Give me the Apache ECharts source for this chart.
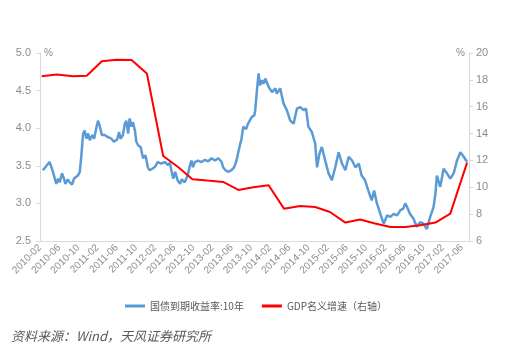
<!DOCTYPE html>
<html>
<head>
<meta charset="utf-8">
<script src="https://cdn.jsdelivr.net/npm/echarts@6/dist/echarts.min.js"></script>
<style>
  html, body { margin: 0; padding: 0; background: #fff; }
  #chart { width: 512px; height: 354px; }
</style>
</head>
<body>
<div id="chart"></div>
<script>
// x position = months since 2010-02
const yieldMonth = [
  0.6, 1.1, 1.5, 2.0, 2.4, 2.7, 3.4, 3.8, 4.1, 4.6,
  5.0, 5.3, 5.8, 6.2, 6.7, 7.1, 7.9, 8.3, 8.6, 9.0,
  9.3, 9.7, 10.0, 10.4, 10.9, 11.3, 11.8, 12.1, 12.5, 12.9,
  13.5, 14.2, 14.9, 15.4, 16.1, 16.5, 16.8, 17.3, 17.7, 18.0,
  18.4, 18.7, 19.1, 19.4, 19.8, 20.1, 20.5, 21.0, 21.5, 22.0,
  22.5, 22.9, 23.2, 23.9, 24.6, 25.3, 26.0, 26.7, 27.1, 27.4,
  27.8, 28.2, 28.7, 29.2, 29.6, 30.2, 30.8, 31.3, 31.6, 31.9,
  32.3, 33.0, 33.7, 34.4, 35.1, 35.8, 36.5, 37.2, 37.9, 38.2,
  38.7, 39.2, 39.9, 40.5, 41.0, 41.3, 41.8, 42.0, 42.4, 43.0,
  43.4, 44.2, 44.7, 44.9, 45.2, 45.6, 45.9, 46.3, 46.6, 47.0,
  47.7, 48.4, 49.1, 49.4, 50.1, 50.8, 51.5, 52.2, 52.9, 53.6,
  54.3, 55.0, 55.5, 56.0, 56.7, 57.4, 57.8, 58.3, 58.8, 59.5,
  60.2, 60.9, 61.6, 62.3, 63.0, 63.7, 64.4, 65.1, 65.8, 66.5,
  67.1, 67.8, 68.5, 69.2, 69.7, 70.3, 71.0, 71.7, 72.4, 73.1,
  73.8, 74.5, 75.2, 75.8, 76.2, 76.6, 77.2, 77.9, 78.6, 79.3,
  80.0, 80.7, 81.4, 82.1, 82.5, 82.8, 83.5, 84.2, 84.9, 85.6,
  86.3, 87.0, 87.7, 88.4, 89.1
];
const yieldValue = [
  3.44, 3.48, 3.46, 3.55, 3.48, 3.42, 3.26, 3.33, 3.28, 3.40,
  3.33, 3.26, 3.32, 3.28, 3.25, 3.33, 3.37, 3.42, 3.62, 3.93,
  3.97, 3.86, 3.93, 3.84, 3.91, 3.86, 4.02, 4.10, 4.02, 3.91,
  3.91, 3.88, 3.86, 3.82, 3.85, 3.95, 3.86, 3.91, 4.06, 4.10,
  3.93, 4.13, 4.02, 4.08, 3.97, 3.82, 3.77, 3.75, 3.60, 3.64,
  3.48, 3.44, 3.42, 3.48, 3.55, 3.53, 3.55, 3.51, 3.54, 3.44,
  3.33, 3.42, 3.31, 3.26, 3.32, 3.28, 3.37, 3.51, 3.57, 3.48,
  3.55, 3.57, 3.55, 3.58, 3.56, 3.60, 3.57, 3.60, 3.55, 3.48,
  3.44, 3.42, 3.44, 3.48, 3.57, 3.66, 3.80, 3.84, 4.02, 3.99,
  4.06, 4.15, 4.17, 4.24, 4.46, 4.73, 4.57, 4.64, 4.59, 4.66,
  4.55, 4.48, 4.53, 4.46, 4.53, 4.33, 4.24, 4.10, 4.06, 4.26,
  4.28, 4.24, 4.26, 4.02, 3.95, 3.80, 3.48, 3.66, 3.75, 3.57,
  3.40, 3.31, 3.48, 3.68, 3.53, 3.44, 3.62, 3.57, 3.48, 3.53,
  3.37, 3.31, 3.17, 3.04, 3.17, 3.00, 2.86, 2.73, 2.84, 2.82,
  2.86, 2.84, 2.91, 2.93, 3.00, 2.95, 2.86, 2.80, 2.69, 2.75,
  2.73, 2.66, 2.82, 2.95, 3.13, 3.37, 3.22, 3.46, 3.40, 3.33,
  3.40, 3.57, 3.68, 3.62, 3.55
];

const gdpMonth = [
  0.35, 3.5, 6.95, 9.75, 12.9, 16.0, 19.1, 22.3, 25.7, 28.8,
  31.8, 34.9, 38.2, 41.4, 44.5, 47.7, 50.9, 54.3, 57.4, 60.5,
  63.7, 66.8, 69.9, 73.1, 76.2, 79.3, 82.5, 85.6, 89.1
];
const gdpValue = [
  18.27, 18.4, 18.27, 18.3, 19.38, 19.5, 19.48, 18.47, 12.33, 11.51,
  10.6, 10.5, 10.4, 9.8, 10.0, 10.15, 8.41, 8.6, 8.53, 8.16,
  7.37, 7.6, 7.3, 7.04, 7.04, 7.17, 7.37, 8.04, 11.84
];

const seriesNames = ['国债到期收益率:10年', 'GDP名义增速（右轴）'];
const sourceText = '资料来源：Wind，天风证券研究所';

function monthLabel(m) {
  const total = 1 + Math.round(m); // months from 2010-01
  const y = 2010 + Math.floor(total / 12);
  const mo = (total % 12) + 1;
  return y + '-' + (mo < 10 ? '0' + mo : mo);
}

const axisColor = '#d9d9d9';
const labelColor = '#8c8c8c';

const chart = echarts.init(document.getElementById('chart'));
chart.setOption({
  animation: false,
  backgroundColor: '#fff',
  textStyle: { fontFamily: 'Liberation Sans, Noto Sans CJK SC, sans-serif' },
  title: {
    text: sourceText,
    left: 6,
    bottom: 6,
    textStyle: {
      fontSize: 13,
      fontStyle: 'italic',
      fontWeight: 'normal',
      color: '#595959',
      fontFamily: 'Noto Sans CJK SC, sans-serif'
    }
  },
  legend: {
    data: seriesNames,
    top: 296,
    left: 'center',
    itemWidth: 20,
    itemHeight: 3,
    itemGap: 18,
    icon: 'rect',
    textStyle: {
      fontSize: 10,
      color: '#595959',
      fontFamily: 'Noto Sans CJK SC, sans-serif'
    }
  },
  grid: { left: 40, right: 43, top: 53, bottom: 113 },
  xAxis: {
    type: 'value',
    min: 0,
    max: 89.5,
    interval: 4,
    axisLine: { lineStyle: { color: axisColor } },
    axisTick: { show: false },
    splitLine: { show: false },
    axisLabel: {
      rotate: 45,
      fontSize: 10,
      color: labelColor,
      margin: 5,
      showMaxLabel: false,
      formatter: monthLabel
    }
  },
  yAxis: [
    {
      type: 'value',
      min: 2.5,
      max: 5,
      interval: 0.5,
      name: '%',
      nameLocation: 'end',
      nameGap: 0,
      nameTextStyle: { color: labelColor, fontSize: 10, align: 'left', verticalAlign: 'middle', padding: [0, 0, 0, 4] },
      axisLine: { show: true, lineStyle: { color: axisColor } },
      axisTick: { show: true, length: 4, lineStyle: { color: axisColor } },
      splitLine: { show: false },
      axisLabel: { fontSize: 11, color: labelColor, margin: 9, formatter: v => v.toFixed(1) }
    },
    {
      type: 'value',
      min: 6,
      max: 20,
      interval: 2,
      name: '%',
      nameLocation: 'end',
      nameGap: 0,
      nameTextStyle: { color: labelColor, fontSize: 10, align: 'right', verticalAlign: 'middle', padding: [0, 4, 0, 0] },
      axisLine: { show: true, lineStyle: { color: axisColor } },
      axisTick: { show: true, length: 4, lineStyle: { color: axisColor } },
      splitLine: { show: false },
      axisLabel: { fontSize: 11, color: labelColor, margin: 7 }
    }
  ],
  series: [
    {
      name: seriesNames[0],
      type: 'line',
      yAxisIndex: 0,
      showSymbol: false,
      symbol: 'none',
      color: '#5b9bd5',
      lineStyle: { width: 2.5, color: '#5b9bd5' },
      data: yieldMonth.map((m, i) => [m, yieldValue[i]])
    },
    {
      name: seriesNames[1],
      type: 'line',
      yAxisIndex: 1,
      showSymbol: false,
      symbol: 'none',
      color: '#ff0000',
      lineStyle: { width: 2, color: '#ff0000' },
      data: gdpMonth.map((m, i) => [m, gdpValue[i]])
    }
  ]
});
</script>
</body>
</html>
